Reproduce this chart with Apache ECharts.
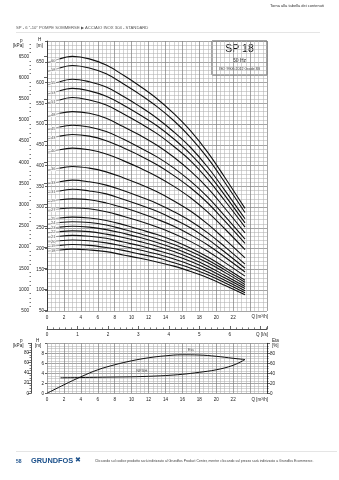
<!DOCTYPE html>
<html><head><meta charset="utf-8">
<script src="https://cdn.jsdelivr.net/npm/echarts@6/dist/echarts.min.js"></script>
<style>html,body{margin:0;padding:0;background:#fff}#c{width:339px;height:480px}</style>
</head><body><div id="c"></div>
<script>
// ---- data ----
const qPoints = [1.5, 3, 5, 7, 9, 11, 13, 15, 17, 19, 21, 23.4]; // m3/h
const stages = [60, 58, 55, 53, 51, 48, 45, 43, 40, 36, 33, 31, 29, 27, 25, 24, 23, 22, 21, 20, 19, 18];
const h60 = [657, 663, 657, 642, 618, 591, 561, 525, 483, 432, 372, 297];
const h58 = [635, 641, 635, 621, 597, 571, 542, 508, 467, 418, 360, 287];
const h55 = [602, 608, 602, 589, 567, 542, 514, 481, 443, 396, 341, 272];
const h53 = [580, 586, 580, 567, 546, 522, 496, 464, 427, 382, 329, 262];
const h51 = [558, 564, 558, 546, 525, 502, 477, 446, 411, 367, 316, 252];
const h48 = [526, 530, 526, 514, 494, 473, 449, 420, 386, 346, 298, 238];
const h45 = [493, 497, 493, 482, 464, 443, 421, 394, 362, 324, 279, 223];
const h43 = [471, 475, 471, 460, 443, 424, 402, 376, 346, 310, 267, 213];
const h40 = [438, 442, 438, 428, 412, 394, 374, 350, 322, 288, 248, 198];
const h36 = [394, 398, 394, 385, 371, 355, 337, 315, 290, 259, 223, 178];
const h33 = [361, 365, 361, 353, 340, 325, 309, 289, 266, 238, 205, 163];
const h31 = [339, 343, 339, 332, 319, 305, 290, 271, 250, 223, 192, 153];
const h29 = [318, 320, 318, 310, 299, 286, 271, 254, 233, 209, 180, 144];
const h27 = [296, 298, 296, 289, 278, 266, 252, 236, 217, 194, 167, 134];
const h25 = [274, 276, 274, 268, 258, 246, 234, 219, 201, 180, 155, 124];
const h24 = [263, 265, 263, 257, 247, 236, 224, 210, 193, 173, 149, 119];
const h23 = [252, 254, 252, 246, 237, 227, 215, 201, 185, 166, 143, 114];
const h22 = [241, 243, 241, 235, 227, 217, 206, 193, 177, 158, 136, 109];
const h21 = [230, 232, 230, 225, 216, 207, 196, 184, 169, 151, 130, 104];
const h20 = [219, 221, 219, 214, 206, 197, 187, 175, 161, 144, 124, 99];
const h19 = [208, 210, 208, 203, 196, 187, 178, 166, 153, 137, 118, 94];
const h18 = [197, 199, 197, 193, 185, 177, 168, 158, 145, 130, 112, 89];
const headCurves = [h60, h58, h55, h53, h51, h48, h45, h43, h40, h36, h33, h31, h29, h27, h25, h24, h23, h22, h21, h20, h19, h18];
const leadH0 = [648, 626, 594, 572, 551, 518, 486, 464, 432, 389, 356, 335, 313, 292, 270, 259, 248, 238, 227, 216, 205, 194]; // head at Q=0 of lead lines

const etaQ = [0, 2, 4, 6, 8, 10, 12, 14, 16, 18, 20, 22, 23.4];
const etaVal = [0, 17, 33, 47, 57, 65, 71, 75, 77, 76.5, 74, 70, 67.5];
const npshQ = [1.6, 4, 6, 8, 10, 12, 14, 16, 18, 20, 22, 23.4];
const npshVal = [3.1, 3.15, 3.2, 3.25, 3.3, 3.4, 3.55, 3.8, 4.2, 4.7, 5.6, 6.75];

const pMainLabels = [500, 1000, 1500, 2000, 2500, 3000, 3500, 4000, 4500, 5000, 5500, 6000, 6500];
const pMainMinor = [600,700,800,900,1100,1200,1300,1400,1600,1700,1800,1900,2100,2200,2300,2400,2600,2700,2800,2900,3100,3200,3300,3400,3600,3700,3800,3900,4100,4200,4300,4400,4600,4700,4800,4900,5100,5200,5300,5400,5600,5700,5800,5900,6100,6200,6300,6400,6600,6700,6800];

// ---- chart ----
const FONT = 'Liberation Sans';
const fs = 4.6;
const minorGrid = {show: true, lineStyle: {color: '#b0b0b0', width: 0.55}};
const majorGrid = {show: true, lineStyle: {color: '#858585', width: 0.75}};
const lab = (extra) => Object.assign({fontFamily: FONT, fontSize: fs, color: '#222'}, extra || {});
const plain = v => String(Math.round(v));

const chart = echarts.init(document.getElementById('c'), null, {renderer: 'canvas'});

const series = [];
headCurves.forEach((arr, i) => {
  series.push({type: 'line', xAxisIndex: 0, yAxisIndex: 0, smooth: 0.4, symbol: 'none', silent: true,
    lineStyle: {color: '#111', width: 1.1}, data: qPoints.map((q, k) => [q, arr[k]]), z: 5});
  series.push({type: 'line', xAxisIndex: 0, yAxisIndex: 0, symbol: 'none', silent: true,
    lineStyle: {color: '#444', width: 0.5}, data: [[0, leadH0[i]], [qPoints[0], arr[0]]], z: 4});
  series.push({type: 'scatter', xAxisIndex: 0, yAxisIndex: 0, symbolSize: 0, silent: true, z: 6,
    data: [[0.75, (leadH0[i] + arr[0]) / 2, stages[i]]],
    label: {show: true, position: 'inside', formatter: p => p.value[2], fontFamily: FONT, fontSize: 4, color: '#333',
      backgroundColor: '#fff', padding: [0, 0.5]}});
});
series.push({type: 'line', xAxisIndex: 2, yAxisIndex: 4, smooth: 0.4, symbol: 'none', silent: true,
  lineStyle: {color: '#111', width: 1}, data: etaQ.map((q, k) => [q, etaVal[k]]), z: 5});
series.push({type: 'line', xAxisIndex: 2, yAxisIndex: 2, smooth: 0.4, symbol: 'none', silent: true,
  lineStyle: {color: '#111', width: 1}, data: npshQ.map((q, k) => [q, npshVal[k]]), z: 5});
series.push({type: 'scatter', xAxisIndex: 2, yAxisIndex: 4, symbolSize: 0, silent: true, z: 6,
  data: [[17, 87, 'Eta']], label: {show: true, position: 'inside', formatter: p => p.value[2], fontFamily: FONT, fontSize: 4, color: '#333'}});
series.push({type: 'scatter', xAxisIndex: 2, yAxisIndex: 2, symbolSize: 0, silent: true, z: 6,
  data: [[11.2, 4.4, 'NPSH']], label: {show: true, position: 'inside', formatter: p => p.value[2], fontFamily: FONT, fontSize: 4, color: '#333'}});

const qAxisCommon = {
  type: 'value', min: 0, max: 26, interval: 2,
  axisLine: {show: false}, axisTick: {show: false},
  minorTick: {show: true, splitNumber: 4, length: 0},
  splitLine: majorGrid, minorSplitLine: minorGrid,
};

const option = {
  animation: false,
  grid: [
    {left: 47, right: 72, top: 41, height: 270},
    {left: 47, right: 72, top: 343.3, height: 50}
  ],
  xAxis: [
    Object.assign({}, qAxisCommon, {gridIndex: 0,
      axisLabel: lab({margin: 4, formatter: v => v <= 22 ? v : ''})}),
    {type: 'value', gridIndex: 0, position: 'bottom', offset: 18, min: 0, max: 26 / 3.6, interval: 1,
      axisLine: {show: true, lineStyle: {color: '#222', width: 0.8}},
      axisTick: {show: true, inside: true, length: 3, lineStyle: {color: '#222', width: 0.7}},
      minorTick: {show: true, splitNumber: 5, length: 1.6, lineStyle: {color: '#222', width: 0.6}},
      splitLine: {show: false}, minorSplitLine: {show: false},
      axisLabel: lab({margin: 3, formatter: v => v <= 6 ? v : ''})},
    Object.assign({}, qAxisCommon, {gridIndex: 1,
      axisLabel: lab({margin: 4, formatter: v => v <= 22 ? v : ''})})
  ],
  yAxis: [
    {type: 'value', gridIndex: 0, min: 50, max: 700, interval: 50,
      axisLine: {show: false},
      axisTick: {show: true, length: 2, lineStyle: {color: '#222', width: 0.7}},
      minorTick: {show: true, splitNumber: 5, length: 0},
      splitLine: majorGrid, minorSplitLine: minorGrid,
      axisLabel: lab({margin: 3, formatter: v => v <= 650 ? v : ''})},
    {type: 'value', gridIndex: 0, position: 'left', offset: 16, min: 50 * 9.81, max: 700 * 9.81,
      axisLine: {show: true, lineStyle: {color: '#222', width: 0.8}},
      axisTick: {show: true, length: 3, customValues: pMainLabels, lineStyle: {color: '#222', width: 0.7}},
      splitLine: {show: false},
      axisLabel: lab({margin: 2, customValues: pMainLabels, formatter: plain})},
    {type: 'value', gridIndex: 1, min: 0, max: 10, interval: 2,
      axisLine: {show: false},
      axisTick: {show: true, length: 2, lineStyle: {color: '#222', width: 0.7}},
      minorTick: {show: true, splitNumber: 4, length: 0},
      splitLine: majorGrid, minorSplitLine: minorGrid,
      axisLabel: lab({margin: 3, formatter: v => v <= 8 ? v : ''})},
    {type: 'value', gridIndex: 1, position: 'left', offset: 16, min: 0, max: 98.1, interval: 20,
      axisLine: {show: true, lineStyle: {color: '#222', width: 0.8}},
      axisTick: {show: true, length: 3, lineStyle: {color: '#222', width: 0.7}},
      minorTick: {show: true, splitNumber: 4, length: 1.5, lineStyle: {color: '#222', width: 0.6}},
      splitLine: {show: false}, minorSplitLine: {show: false},
      axisLabel: lab({margin: 2, formatter: v => v <= 80 ? v : ''})},
    {type: 'value', gridIndex: 1, position: 'right', min: 0, max: 100, interval: 20,
      axisLine: {show: true, lineStyle: {color: '#222', width: 0.8}},
      axisTick: {show: true, length: 3, lineStyle: {color: '#222', width: 0.7}},
      minorTick: {show: true, splitNumber: 4, length: 1.5, lineStyle: {color: '#222', width: 0.6}},
      splitLine: {show: false}, minorSplitLine: {show: false},
      axisLabel: lab({margin: 3, formatter: v => v <= 80 ? v : ''})},
    {type: 'value', gridIndex: 0, position: 'left', offset: 16, min: 50 * 9.81, max: 700 * 9.81,
      axisLine: {show: false},
      axisTick: {show: true, length: 1.5, customValues: pMainMinor, lineStyle: {color: '#222', width: 0.6}},
      splitLine: {show: false}, axisLabel: {show: false}}
  ],
  graphic: [
    {type: 'text', left: 270, top: 4, style: {text: 'Torna alla tabella dei contenuti', font: '4px ' + FONT, fill: '#333'}},
    {type: 'text', left: 16, top: 25.5, style: {text: 'SP - 6 "-10" POMPE SOMMERSE \u25B6 ACCIAIO INOX 304 - STANDARD', font: '4.2px ' + FONT, fill: '#555'}},
    {type: 'rect', shape: {x: 16, y: 32.5, width: 304, height: 0.5}, style: {fill: '#ccc'}},
    {type: 'text', left: 20, top: 38, style: {text: 'p', font: fs + 'px ' + FONT, fill: '#222', textAlign: 'center'}},
    {type: 'text', left: 13, top: 43.5, style: {text: '[kPa]', font: fs + 'px ' + FONT, fill: '#222'}},
    {type: 'text', left: 38, top: 37.5, style: {text: 'H', font: fs + 'px ' + FONT, fill: '#222'}},
    {type: 'text', left: 36.5, top: 43, style: {text: '[m]', font: fs + 'px ' + FONT, fill: '#222'}},
    {type: 'group', z: 50, children: [
      {type: 'rect', shape: {x: 212, y: 41, width: 55, height: 34}, style: {fill: '#fff', stroke: '#222', lineWidth: 0.8}},
      {type: 'text', x: 239.5, y: 49.5, style: {text: 'SP 18', font: '10.5px ' + FONT, fill: '#111', textAlign: 'center', textVerticalAlign: 'middle'}},
      {type: 'text', x: 239.5, y: 61, style: {text: '50 Hz', font: '5px ' + FONT, fill: '#222', textAlign: 'center', textVerticalAlign: 'middle'}},
      {type: 'text', x: 239.5, y: 69, style: {text: 'ISO 9906:2012 Grade 3B', font: '3.6px ' + FONT, fill: '#222', textAlign: 'center', textVerticalAlign: 'middle'}}
    ]},
    {type: 'text', x: 268, y: 317, style: {text: 'Q [m\u00B3/h]', font: fs + 'px ' + FONT, fill: '#222', textAlign: 'right', textVerticalAlign: 'middle'}},
    {type: 'text', x: 268, y: 334.5, style: {text: 'Q [l/s]', font: fs + 'px ' + FONT, fill: '#222', textAlign: 'right', textVerticalAlign: 'middle'}},
    {type: 'text', x: 268, y: 400, style: {text: 'Q [m\u00B3/h]', font: fs + 'px ' + FONT, fill: '#222', textAlign: 'right', textVerticalAlign: 'middle'}},
    {type: 'text', left: 20, top: 338.5, style: {text: 'p', font: fs + 'px ' + FONT, fill: '#222', textAlign: 'center'}},
    {type: 'text', left: 13, top: 343.5, style: {text: '[kPa]', font: fs + 'px ' + FONT, fill: '#222'}},
    {type: 'text', left: 36, top: 338, style: {text: 'H', font: fs + 'px ' + FONT, fill: '#222'}},
    {type: 'text', left: 35, top: 343, style: {text: '[m]', font: fs + 'px ' + FONT, fill: '#222'}},
    {type: 'text', left: 272, top: 338, style: {text: 'Eta', font: fs + 'px ' + FONT, fill: '#222'}},
    {type: 'text', left: 272, top: 343.5, style: {text: '[%]', font: fs + 'px ' + FONT, fill: '#222'}},
    {type: 'rect', shape: {x: 16, y: 451.5, width: 321, height: 0.5}, style: {fill: '#ccc'}},
    {type: 'text', left: 16, top: 459, style: {text: '58', font: 'bold 5px ' + FONT, fill: '#1a4f8a'}},
    {type: 'text', left: 31, top: 457.5, style: {text: 'GRUNDFOS', font: 'bold 7.4px ' + FONT, fill: '#1a4f8a'}},
    {type: 'text', left: 75, top: 456.5, style: {text: '\u2716', font: '7px ' + FONT, fill: '#1a4f8a'}},
    {type: 'text', left: 95, top: 459.5, style: {text: 'Cliccando sul codice prodotto sar\u00E0 indirizzato al Grundfos Product Center, mentre cliccando sul prezzo sar\u00E0 indirizzato a Grundfos Ecommerce.', font: '3.45px ' + FONT, fill: '#444'}}
  ],
  series: series
};
chart.setOption(option);
</script></body></html>
